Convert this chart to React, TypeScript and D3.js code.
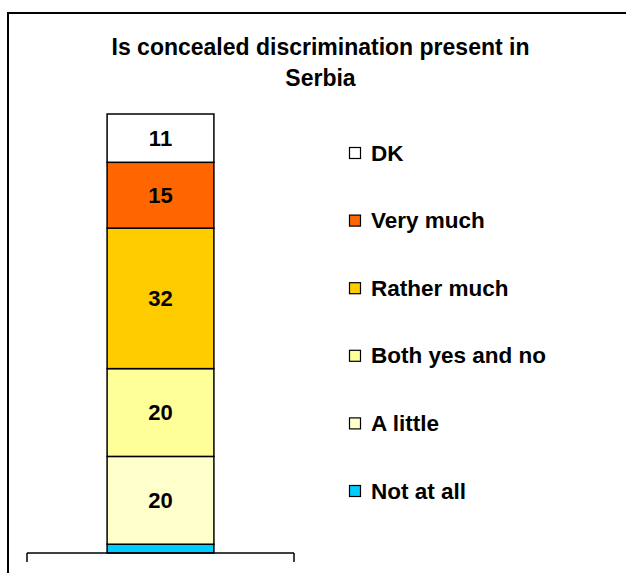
import React from "react";
import * as d3 from "d3";

const categories = ["Serbia"];
const seriesNames = ["Not at all", "A little", "Both yes and no", "Rather much", "Very much", "DK"];
const seriesValues = [2, 20, 20, 32, 15, 11];
const seriesColors = ["#00CCFF", "#FFFFCC", "#FFFF99", "#FFCC00", "#FF6600", "#FFFFFF"];
const showLabel = [false, true, true, true, true, true];
const titleLines = ["Is concealed discrimination present in", "Serbia"];

const W = 626;
const H = 573;
const FONT = "'Liberation Sans', Arial, sans-serif";

export default function App() {
  const y = d3.scaleLinear().domain([0, 100]).range([553, 114]);
  const x = d3.scaleBand().domain(categories).range([27, 294]).padding(0);
  const bw = x.bandwidth() * 0.4;
  const stackData = [Object.fromEntries(seriesNames.map((n, i) => [n, seriesValues[i]]))];
  const stacked = d3.stack<any>().keys(seriesNames)(stackData as any);
  const legendY = d3.scaleLinear().domain([0, 5]).range([153, 491]);
  const legendOrder = [...seriesNames.keys()].reverse();

  return (
    <svg width={W} height={H} style={{ position: "absolute", left: 0, top: 0, display: "block" }}>
      <rect x={0} y={0} width={W} height={H} fill="#fff" />
      <line x1={8} y1={13} x2={W} y2={13} stroke="#000" strokeWidth={2} />
      <line x1={8} y1={12} x2={8} y2={H} stroke="#000" strokeWidth={2} />
      {titleLines.map((t, i) => (
        <text key={i} x={320.5} y={55 + i * 31} textAnchor="middle" fontFamily={FONT} fontWeight="bold" fontSize={23}>
          {t}
        </text>
      ))}
      {categories.map((c) => {
        const cx = (x(c) as number) + x.bandwidth() / 2;
        return (
          <g key={c}>
            {stacked.map((s, i) => {
              const d = s[0];
              const y0 = y(d[0]);
              const y1 = y(d[1]);
              return (
                <g key={s.key}>
                  <rect x={cx - bw / 2} y={y1} width={bw} height={y0 - y1} fill={seriesColors[i]} stroke="#000" strokeWidth={1.5} />
                  {showLabel[i] && (
                    <text x={cx} y={(y0 + y1) / 2} textAnchor="middle" dominantBaseline="central" fontFamily={FONT} fontWeight="bold" fontSize={22}>
                      {seriesValues[i]}
                    </text>
                  )}
                </g>
              );
            })}
          </g>
        );
      })}
      <g stroke="#000" strokeWidth={1.5}>
        <line x1={x.range()[0]} y1={y(0)} x2={x.range()[1]} y2={y(0)} />
        {x.range().map((r, i) => (
          <line key={i} x1={r} y1={y(0)} x2={r} y2={y(0) + 9} />
        ))}
      </g>
      {legendOrder.map((si, i) => (
        <g key={si} transform={`translate(0,${legendY(i)})`}>
          <rect x={349.5} y={-5.5} width={11} height={11} fill={seriesColors[si]} stroke="#000" strokeWidth={1.2} />
          <text x={371} y={0} dominantBaseline="central" fontFamily={FONT} fontWeight="bold" fontSize={22.5}>
            {seriesNames[si]}
          </text>
        </g>
      ))}
    </svg>
  );
}
